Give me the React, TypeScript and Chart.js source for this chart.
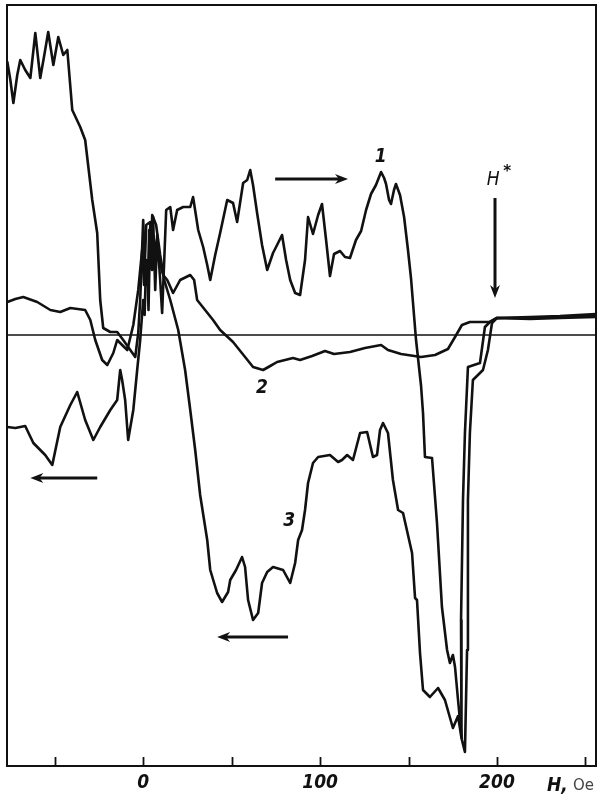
import React, { useEffect, useRef } from "react";
import { Chart, registerables } from "chart.js";

Chart.register(...registerables);

// Field H (Oe) and signal (arbitrary units)
const curve1: [number, number][] = [
  [-76.8, 27.3], [-75.1, 25.5], [-73.4, 23.2], [-71.2, 26.0], [-69.5, 27.5], [-66.7, 26.5],
  [-63.8, 25.7], [-61.0, 30.2], [-58.2, 25.7], [-55.9, 28.0], [-53.7, 30.3], [-50.8, 27.0],
  [-48.0, 29.8], [-45.2, 28.0], [-42.9, 28.5], [-40.1, 22.5], [-35.6, 20.8], [-32.8, 19.5],
  [-28.8, 13.5], [-26.0, 10.2], [-24.3, 3.5], [-22.6, 0.7], [-18.6, 0.3], [-14.7, 0.3],
  [-11.3, -0.5], [-7.3, -1.5], [-4.5, -2.2], [-2.8, 0.2], [-1.7, 3.5], [0.0, 11.5],
  [1.2, 6.0], [2.3, 7.3], [3.0, 2.5], [4.0, 11.0], [5.0, 6.5], [5.6, 11.8], [6.8, 4.5],
  [7.9, 10.0], [9.6, 5.5], [10.7, 2.2], [11.9, 7.5], [13.0, 12.5], [15.3, 12.8],
  [16.9, 10.5], [19.2, 12.5], [22.6, 12.8], [26.6, 12.8], [28.2, 13.8], [31.1, 10.5],
  [33.9, 8.8], [36.2, 7.0], [37.9, 5.5], [40.7, 8.0], [43.5, 10.2], [47.5, 13.5],
  [50.8, 13.2], [53.1, 11.3], [56.5, 15.2], [58.8, 15.5], [60.5, 16.5], [62.1, 15.0],
  [64.4, 12.2], [67.2, 9.0], [70.1, 6.5], [73.4, 8.2], [75.7, 9.0], [78.5, 10.0],
  [80.8, 7.5], [83.1, 5.5], [85.9, 4.2], [88.7, 4.0], [91.5, 7.5], [93.2, 11.8],
  [96.0, 10.1], [98.9, 12.0], [101.1, 13.1], [103.4, 9.5], [105.6, 5.9], [107.9, 8.1],
  [111.3, 8.4], [114.1, 7.8], [116.9, 7.7], [120.3, 9.5], [123.2, 10.4], [126.0, 12.5],
  [128.8, 14.1], [131.6, 15.0], [134.5, 16.3], [136.2, 15.7], [137.3, 15.1], [139.0, 13.5],
  [140.1, 13.1], [141.8, 14.5], [142.9, 15.1], [145.2, 14.0], [147.5, 11.8], [149.7, 8.5],
  [151.4, 5.7], [154.2, -0.4], [157.1, -5.1], [158.2, -7.8], [159.3, -12.2], [163.3, -12.3],
  [166.1, -18.8], [168.9, -27.2], [171.8, -31.5], [173.4, -32.8], [175.1, -32.0], [176.3, -33.2],
  [178.0, -36.5], [180.2, -40.5], [181.9, -41.7], [183.1, -31.5], [183.6, -16.5], [184.7, -9.8],
  [186.4, -4.5], [192.1, -3.5], [194.9, -1.5], [197.2, 1.2], [200.0, 1.7], [218.6, 1.7],
  [235.6, 1.8], [255.9, 1.9],
];

const curve2: [number, number][] = [
  [-76.8, 3.3], [-72.3, 3.6], [-67.8, 3.8], [-59.9, 3.3], [-52.5, 2.5], [-46.9, 2.3],
  [-41.2, 2.7], [-32.8, 2.5], [-29.9, 1.5], [-27.1, -0.5], [-23.2, -2.5], [-20.3, -3.0],
  [-16.9, -1.8], [-14.7, -0.5], [-11.9, -1.0], [-9.0, -1.5], [-5.6, 1.0], [-2.8, 4.5],
  [-0.6, 8.5], [0.5, 5.0], [1.7, 11.0], [4.0, 11.3], [6.2, 9.5], [8.5, 7.7], [11.3, 6.0], [13.6, 5.5],
  [16.9, 4.2], [20.9, 5.5], [26.6, 6.0], [28.8, 5.5], [30.5, 3.5], [35.0, 2.5], [39.5, 1.5],
  [43.5, 0.5], [50.8, -0.7], [57.6, -2.2], [62.1, -3.2], [67.8, -3.5], [71.8, -3.1],
  [75.7, -2.7], [84.7, -2.3], [88.7, -2.5], [95.5, -2.1], [102.8, -1.6], [107.9, -1.9],
  [116.9, -1.7], [125.4, -1.3], [134.5, -1.0], [138.4, -1.5], [145.8, -1.9], [157.1, -2.2],
  [165.0, -2.0], [172.3, -1.4], [176.3, -0.2], [180.2, 1.0], [184.7, 1.3], [196.0, 1.3],
  [200.0, 1.7], [218.6, 1.6], [235.6, 1.7], [255.9, 1.8],
];

const curve3: [number, number][] = [
  [255.9, 2.1], [235.6, 1.9], [218.6, 1.8], [200.0, 1.7], [196.0, 1.3], [193.2, 0.8],
  [190.4, -2.8], [183.6, -3.2], [181.9, -9.8], [180.8, -16.5], [179.7, -28.5], [179.7, -36.5],
  [180.2, -40.3], [178.0, -38.1], [175.1, -39.3], [170.6, -36.5], [166.7, -35.3], [162.1, -36.2],
  [158.2, -35.5], [156.5, -31.8], [154.8, -26.5], [153.7, -26.3], [152.0, -21.8], [146.9, -17.8],
  [144.1, -17.5], [141.2, -14.5], [138.4, -9.8], [135.6, -8.8], [133.9, -9.5], [132.2, -12.0],
  [129.9, -12.2], [126.6, -9.7], [122.6, -9.8], [118.6, -12.5], [115.3, -12.0], [112.4, -12.5],
  [110.2, -12.7], [105.6, -12.0], [98.9, -12.2], [96.0, -12.8], [93.2, -14.8], [91.5, -17.5],
  [89.8, -19.5], [87.6, -20.5], [85.9, -22.8], [83.1, -24.8], [79.1, -23.5], [73.4, -23.2],
  [70.1, -23.7], [67.2, -24.8], [65.0, -27.8], [62.1, -28.5], [59.3, -26.5], [57.6, -23.2],
  [55.9, -22.2], [52.5, -23.5], [49.2, -24.5], [48.0, -25.7], [44.6, -26.7], [41.8, -25.8],
  [37.9, -23.5], [36.2, -20.5], [32.2, -16.0], [29.4, -11.5], [26.6, -7.5], [23.7, -3.5],
  [19.8, 0.5], [15.3, 3.5], [11.9, 5.5], [9.6, 8.0], [7.3, 11.0], [5.1, 12.0], [4.2, 7.0],
  [3.4, 10.5], [2.6, 5.0], [1.7, 7.5], [0.8, 2.0], [0.0, 3.5], [-1.7, -0.5], [-3.4, -3.5],
  [-5.6, -7.5], [-8.5, -10.5],
  [-10.2, -6.5], [-11.9, -4.5], [-13.0, -3.5], [-14.7, -6.5], [-18.6, -7.5], [-24.3, -9.2],
  [-28.2, -10.5], [-32.8, -8.5], [-37.3, -5.7], [-41.2, -7.0], [-46.9, -9.2], [-51.4, -13.0],
  [-55.4, -12.0], [-62.1, -10.8], [-66.7, -9.1], [-72.3, -9.3], [-76.8, -9.2],
];

const xMin = -77;
const xMax = 256;
const yMin = -43.1;
const yMax = 33;
const tickValues = [-50, 0, 50, 100, 150, 200, 250];
const tickLabels = ["0", "100", "200"];
const axisTitle = "H,";
const axisUnit = "Oe";

// annotations (data units)
const curveLabels: { text: string; x: number; y: number }[] = [
  { text: "1", x: 134.3, y: 17.8 },
  { text: "2", x: 67.2, y: -5.3 },
  { text: "3", x: 82.5, y: -18.6 },
];
const arrows: { x1: number; y1: number; x2: number; y2: number }[] = [
  { x1: 74.6, y1: 15.6, x2: 115.8, y2: 15.6 },
  { x1: -26.0, y1: -14.3, x2: -63.8, y2: -14.3 },
  { x1: 81.9, y1: -30.2, x2: 41.8, y2: -30.2 },
  { x1: 198.9, y1: 13.7, x2: 198.9, y2: 3.7 },
];
const hStarPos = { x: 199.5, y: 15.5 };

const toPts = (a: [number, number][]) => a.map(([x, y]) => ({ x, y }));

const italicFont = '"Liberation Sans Narrow", "DejaVu Sans Condensed", "DejaVu Sans", sans-serif';

export default function App() {
  const ref = useRef<HTMLCanvasElement | null>(null);

  useEffect(() => {
    document.body.style.margin = "0";
    const canvas = ref.current;
    if (!canvas) return;

    const overlay = {
      id: "overlay",
      afterDatasetsDraw(chart: any) {
        const ctx = chart.ctx as CanvasRenderingContext2D;
        const xs = chart.scales.x;
        const ys = chart.scales.y;
        const a = chart.chartArea;
        ctx.save();
        ctx.strokeStyle = "#111";
        ctx.fillStyle = "#111";
        // frame
        ctx.lineWidth = 2;
        ctx.strokeRect(a.left, a.top, a.right - a.left, a.bottom - a.top);
        // inward ticks
        ctx.lineWidth = 1.8;
        for (const v of tickValues) {
          const px = Math.round(xs.getPixelForValue(v)) + 0.5;
          ctx.beginPath();
          ctx.moveTo(px, a.bottom);
          ctx.lineTo(px, a.bottom - 9);
          ctx.stroke();
        }
        // arrows
        for (const ar of arrows) {
          const x1 = xs.getPixelForValue(ar.x1);
          const y1 = ys.getPixelForValue(ar.y1);
          const x2 = xs.getPixelForValue(ar.x2);
          const y2 = ys.getPixelForValue(ar.y2);
          const ang = Math.atan2(y2 - y1, x2 - x1);
          const hl = 13;
          const hw = 5;
          ctx.lineWidth = 3;
          ctx.beginPath();
          ctx.moveTo(x1, y1);
          ctx.lineTo(x2 - Math.cos(ang) * hl * 0.6, y2 - Math.sin(ang) * hl * 0.6);
          ctx.stroke();
          ctx.beginPath();
          ctx.moveTo(x2, y2);
          ctx.lineTo(x2 - Math.cos(ang) * hl - Math.sin(ang) * hw, y2 - Math.sin(ang) * hl + Math.cos(ang) * hw);
          ctx.lineTo(x2 - Math.cos(ang) * hl * 0.7, y2 - Math.sin(ang) * hl * 0.7);
          ctx.lineTo(x2 - Math.cos(ang) * hl + Math.sin(ang) * hw, y2 - Math.sin(ang) * hl - Math.cos(ang) * hw);
          ctx.closePath();
          ctx.fill();
        }
        // curve labels
        ctx.textAlign = "center";
        ctx.textBaseline = "middle";
        ctx.font = `italic bold 19px ${italicFont}`;
        for (const l of curveLabels) {
          ctx.fillText(l.text, xs.getPixelForValue(l.x), ys.getPixelForValue(l.y));
        }
        // H*
        const hx = xs.getPixelForValue(hStarPos.x);
        const hy = ys.getPixelForValue(hStarPos.y);
        ctx.font = `italic 19px ${italicFont}`;
        ctx.fillText("H", hx - 3, hy);
        ctx.font = `bold 15px "DejaVu Sans", sans-serif`;
        ctx.fillText("*", hx + 11, hy - 8);
        // axis title
        ctx.textAlign = "left";
        ctx.textBaseline = "alphabetic";
        ctx.font = `italic bold 19px ${italicFont}`;
        ctx.fillText(axisTitle, 547, a.bottom + 25);
        ctx.font = `15px "DejaVu Sans", sans-serif`;
        ctx.fillStyle = "#444";
        ctx.fillText(axisUnit, 573, a.bottom + 24);
        ctx.restore();
      },
    };

    const lineStyle = {
      borderColor: "#111",
      borderWidth: 2.6,
      pointRadius: 0,
      tension: 0,
      fill: false,
      borderJoinStyle: "round" as const,
      borderCapStyle: "round" as const,
    };

    const chart = new Chart(canvas, {
      type: "line",
      data: {
        datasets: [
          { ...lineStyle, label: "zero", data: [{ x: xMin, y: 0 }, { x: xMax, y: 0 }], borderWidth: 1.6 },
          { ...lineStyle, label: "1", data: toPts(curve1) },
          { ...lineStyle, label: "2", data: toPts(curve2) },
          { ...lineStyle, label: "3", data: toPts(curve3) },
        ],
      },
      options: {
        animation: false,
        responsive: false,
        devicePixelRatio: 1,
        parsing: true,
        layout: { padding: { left: 7, right: 7, top: 5, bottom: 0 } },
        plugins: { legend: { display: false }, tooltip: { enabled: false } },
        scales: {
          x: {
            type: "linear",
            min: xMin,
            max: xMax,
            grid: { display: false, drawTicks: false },
            border: { display: false },
            afterFit: (s: any) => {
              s.height = 33;
            },
            afterBuildTicks: (s: any) => {
              s.ticks = tickLabels.map((t) => ({ value: Number(t) }));
            },
            ticks: {
              autoSkip: false,
              maxRotation: 0,
              padding: 6,
              color: "#111",
              font: { family: italicFont, size: 19, style: "italic", weight: "bold" },
              callback: (v: any) => (tickLabels.includes(String(v)) ? String(v) : ""),
            },
          },
          y: { type: "linear", min: yMin, max: yMax, display: false },
        },
      },
      plugins: [overlay],
    });
    return () => chart.destroy();
  }, []);

  return <canvas ref={ref} width={603} height={799} style={{ display: "block", width: 603, height: 799 }} />;
}
